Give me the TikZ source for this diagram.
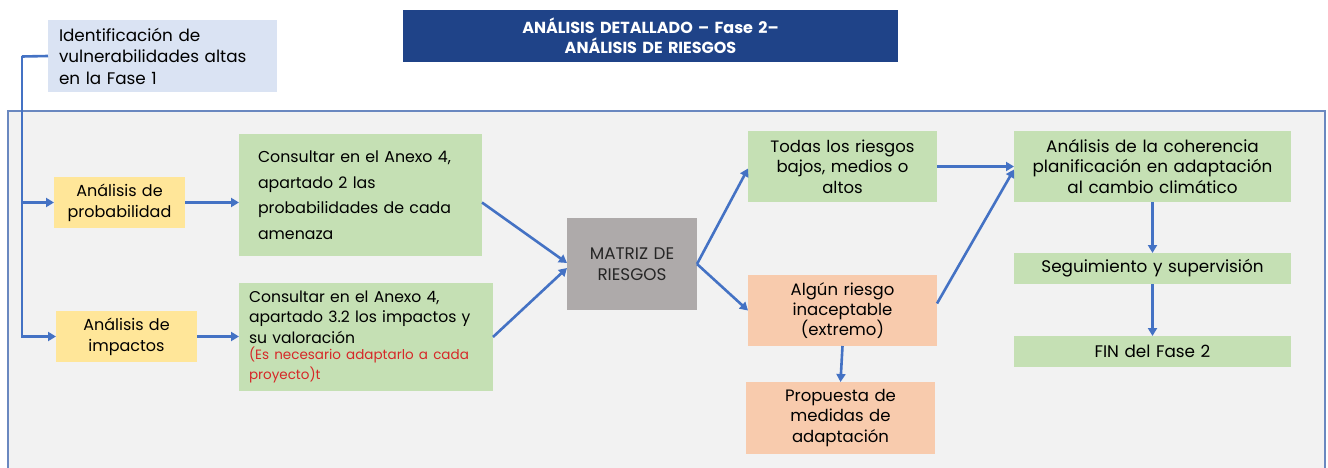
\documentclass[tikz,border=0pt]{standalone}
\usepackage{fontspec}
\setmainfont{Poppins}
\usetikzlibrary{arrows.meta,calc}
\definecolor{arrowblue}{HTML}{4472C4}
\definecolor{yellowfill}{HTML}{FFE699}
\definecolor{greenfill}{HTML}{C5E0B4}
\definecolor{orangefill}{HTML}{F8CBAD}
\definecolor{grayfill}{HTML}{AEAAAA}
\definecolor{lightbluefill}{HTML}{DAE3F3}
\definecolor{titleblue}{HTML}{1F4388}
\definecolor{panelfill}{HTML}{F2F2F2}
\definecolor{panelborder}{HTML}{6A88C0}
\definecolor{notered}{HTML}{D62828}
\tikzset{
  base/.style={anchor=north west, inner sep=0pt, outer sep=0pt, align=center,
    font=\fontsize{16.5}{20.3}\selectfont, text=black},
  yellowbox/.style={base, fill=yellowfill, font=\fontsize{16}{20.7}\selectfont},
  greenbox/.style={base, fill=greenfill},
  orangebox/.style={base, fill=orangefill},
  graybox/.style={base, fill=grayfill},
  arr/.style={draw=arrowblue, line width=2.6pt, -{Triangle[length=8pt,width=9pt]}},
  trunk/.style={draw=arrowblue, line width=2.6pt}
}
\begin{document}
\begin{tikzpicture}[x=1pt,y=-1pt]
\useasboundingbox (0,0) rectangle (1328,468);
% panel
\fill[panelfill] (8,111) rectangle (1325,472);
\draw[panelborder, line width=1.2pt] (8,472) -- (8,111) -- (1325,111) -- (1325,472);
% title
\node[base, fill=titleblue, minimum width=495pt, minimum height=52pt, text width=495pt,
  font=\fontsize{16}{20}\selectfont\bfseries, text=white] (title) at (403,10)
  {ANÁLISIS DETALLADO – Fase 2–\\ANÁLISIS DE RIESGOS};
% identification box
\node[base, fill=lightbluefill, minimum width=229pt, minimum height=72pt, text width=207pt,
  inner xsep=11pt, align=left, font=\fontsize{16.8}{21.5}\selectfont] (ident) at (48,20)
  {Identificación de\\vulnerabilidades altas\\en la Fase 1};
% left column
\node[yellowbox, minimum width=131pt, minimum height=51pt, text width=131pt] (prob) at (54,177)
  {Análisis de\\probabilidad};
\node[yellowbox, minimum width=141pt, minimum height=51pt, text width=141pt] (imp) at (56,311)
  {Análisis de\\impactos};
% green consult boxes
\node[greenbox, minimum width=243pt, minimum height=122pt, text width=205pt, inner xsep=19pt,
  align=left, font=\fontsize{15.8}{25.5}\selectfont] (cons1) at (239,134)
  {Consultar en el Anexo 4,\\apartado 2 las\\probabilidades de cada\\amenaza};
\node[greenbox, minimum width=244pt, minimum height=108pt, text width=234pt, inner xsep=10pt,
  align=left, font=\fontsize{15.6}{20.3}\selectfont] (cons2) at (239,283)
  {Consultar en el Anexo 4,\\apartado 3.2 los impactos y\\su valoración\\[-2pt]
  {\fontsize{13.5}{18.3}\selectfont\color{notered}(Es necesario adaptarlo a cada\\proyecto)t}};
% matrix
\node[graybox, minimum width=130pt, minimum height=92pt, text width=130pt,
  font=\fontsize{16.8}{20.7}\selectfont, text=black!85] (matrix) at (567,218)
  {MATRIZ DE\\RIESGOS};
% outcome boxes
\node[greenbox, minimum width=189pt, minimum height=71pt, text width=189pt] (todas) at (748,131)
  {Todas los riesgos\\bajos, medios o\\altos};
\node[orangebox, minimum width=189pt, minimum height=71pt, text width=189pt] (algun) at (748,275)
  {Algún riesgo\\inaceptable\\(extremo)};
\node[orangebox, minimum width=189pt, minimum height=72pt, text width=189pt] (prop) at (746,382)
  {Propuesta de\\medidas de\\adaptación};
% right column
\node[greenbox, minimum width=277pt, minimum height=71pt, text width=277pt,
  font=\fontsize{16.8}{20.3}\selectfont] (coh) at (1014,131)
  {Análisis de la coherencia\\planificación en adaptación\\al cambio climático};
\node[greenbox, minimum width=277pt, minimum height=31pt, text width=277pt,
  font=\fontsize{16.8}{20.3}\selectfont] (seg) at (1014,253)
  {Seguimiento y supervisión};
\node[greenbox, minimum width=277pt, minimum height=31pt, text width=277pt,
  font=\fontsize{16.8}{20.3}\selectfont] (fin) at (1014,336)
  {FIN del Fase 2};
% connectors
\coordinate (ttop) at (22,56.5);
\draw[trunk] (ident.west) -- (ttop);
\draw[arr] (ttop) |- (prob.west);
\draw[arr] (ttop) |- (imp.west);
\draw[arr] (prob.east) -- (prob.east -| cons1.west);
\draw[arr] (imp.east) -- (imp.east -| cons2.west);
\draw[arr] (prob.east -| cons1.east) -- ($(matrix.west)+(0,-1)$);
\draw[arr] (cons2.east) -- ($(matrix.west)+(0,4)$);
\draw[arr] (matrix.east) -- ($(todas.west)+(0,2)$);
\draw[arr] (matrix.east) -- (algun.west);
\draw[arr] (algun.south) -- (prop.north);
\draw[arr] (todas.east) -- (coh.west);
\draw[arr] ($(algun.east)+(0,-7)$) -- ($(coh.west)+(0,3)$);
\draw[arr] (coh.south) -- (seg.north);
\draw[arr] (seg.south) -- (fin.north);
\end{tikzpicture}
\end{document}
